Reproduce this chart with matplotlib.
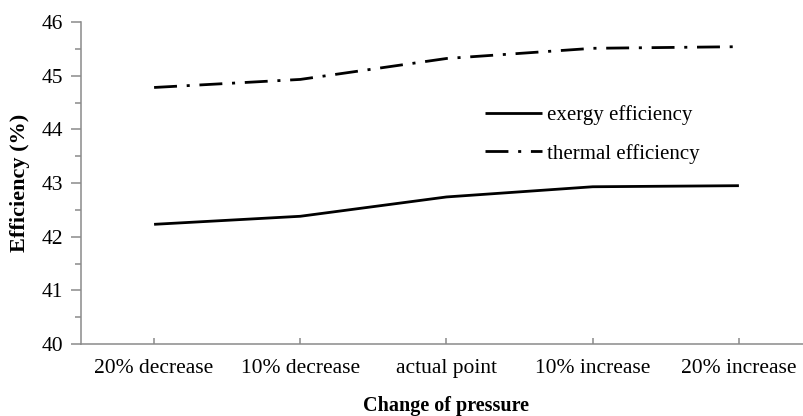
import numpy as np
import matplotlib
matplotlib.use("Agg")
import matplotlib.pyplot as plt
from matplotlib.ticker import MultipleLocator

# 压力变化工况
categories = ['20% decrease', '10% decrease', 'actual point', '10% increase', '20% increase']
# 㶲效率 / 热效率 (%)
exergy_eff = [42.23, 42.38, 42.74, 42.93, 42.95]
thermal_eff = [44.78, 44.93, 45.32, 45.51, 45.54]

plt.rcParams['font.family'] = ['Liberation Serif', 'DejaVu Serif']
plt.rcParams['lines.scale_dashes'] = False

fig = plt.figure(figsize=(8.04, 4.16), dpi=100)
ax = fig.add_axes([81 / 804, 72 / 416, 731 / 804, 322 / 416])

x = np.arange(len(categories))
ax.plot(x, exergy_eff, color='black', lw=2.0, label='exergy efficiency',
        solid_capstyle='butt')
ax.plot(x, thermal_eff, color='black', lw=2.0, label='thermal efficiency',
        dashes=(16.5, 7.0, 2.2, 7.0), dash_capstyle='butt')

ax.set_xlim(-0.5, len(categories) - 0.5)
ax.set_ylim(40, 46)
ax.set_xticks(x)
ax.set_xticklabels(categories)
ax.yaxis.set_major_locator(MultipleLocator(1))
ax.yaxis.set_minor_locator(MultipleLocator(0.5))

axis_gray = '#8a8a8a'
for side in ['top', 'right']:
    ax.spines[side].set_visible(False)
for side in ['left', 'bottom']:
    ax.spines[side].set_color(axis_gray)
    ax.spines[side].set_linewidth(1.1)

ax.tick_params(axis='y', which='major', direction='out', length=7, width=1.1,
               color=axis_gray, labelsize=15.5, pad=6)
ax.tick_params(axis='y', which='minor', direction='out', length=4, width=1.1,
               color=axis_gray)
ax.tick_params(axis='x', which='major', direction='in', length=4, width=1.1,
               color=axis_gray, labelsize=15.5, pad=11)

ax.set_xlabel('Change of pressure', fontsize=14.5, fontweight='bold', labelpad=13)
ax.set_ylabel('Efficiency (%)', fontsize=16, fontweight='bold', labelpad=8)

ax.legend(loc='upper left', bbox_to_anchor=(485 / 804, 1 - 105 / 416),
          bbox_transform=fig.transFigure, frameon=False, fontsize=15,
          handlelength=2.75, handletextpad=0.25, labelspacing=0.9,
          borderpad=0, borderaxespad=0)

fig.savefig('out.png', dpi=100)
